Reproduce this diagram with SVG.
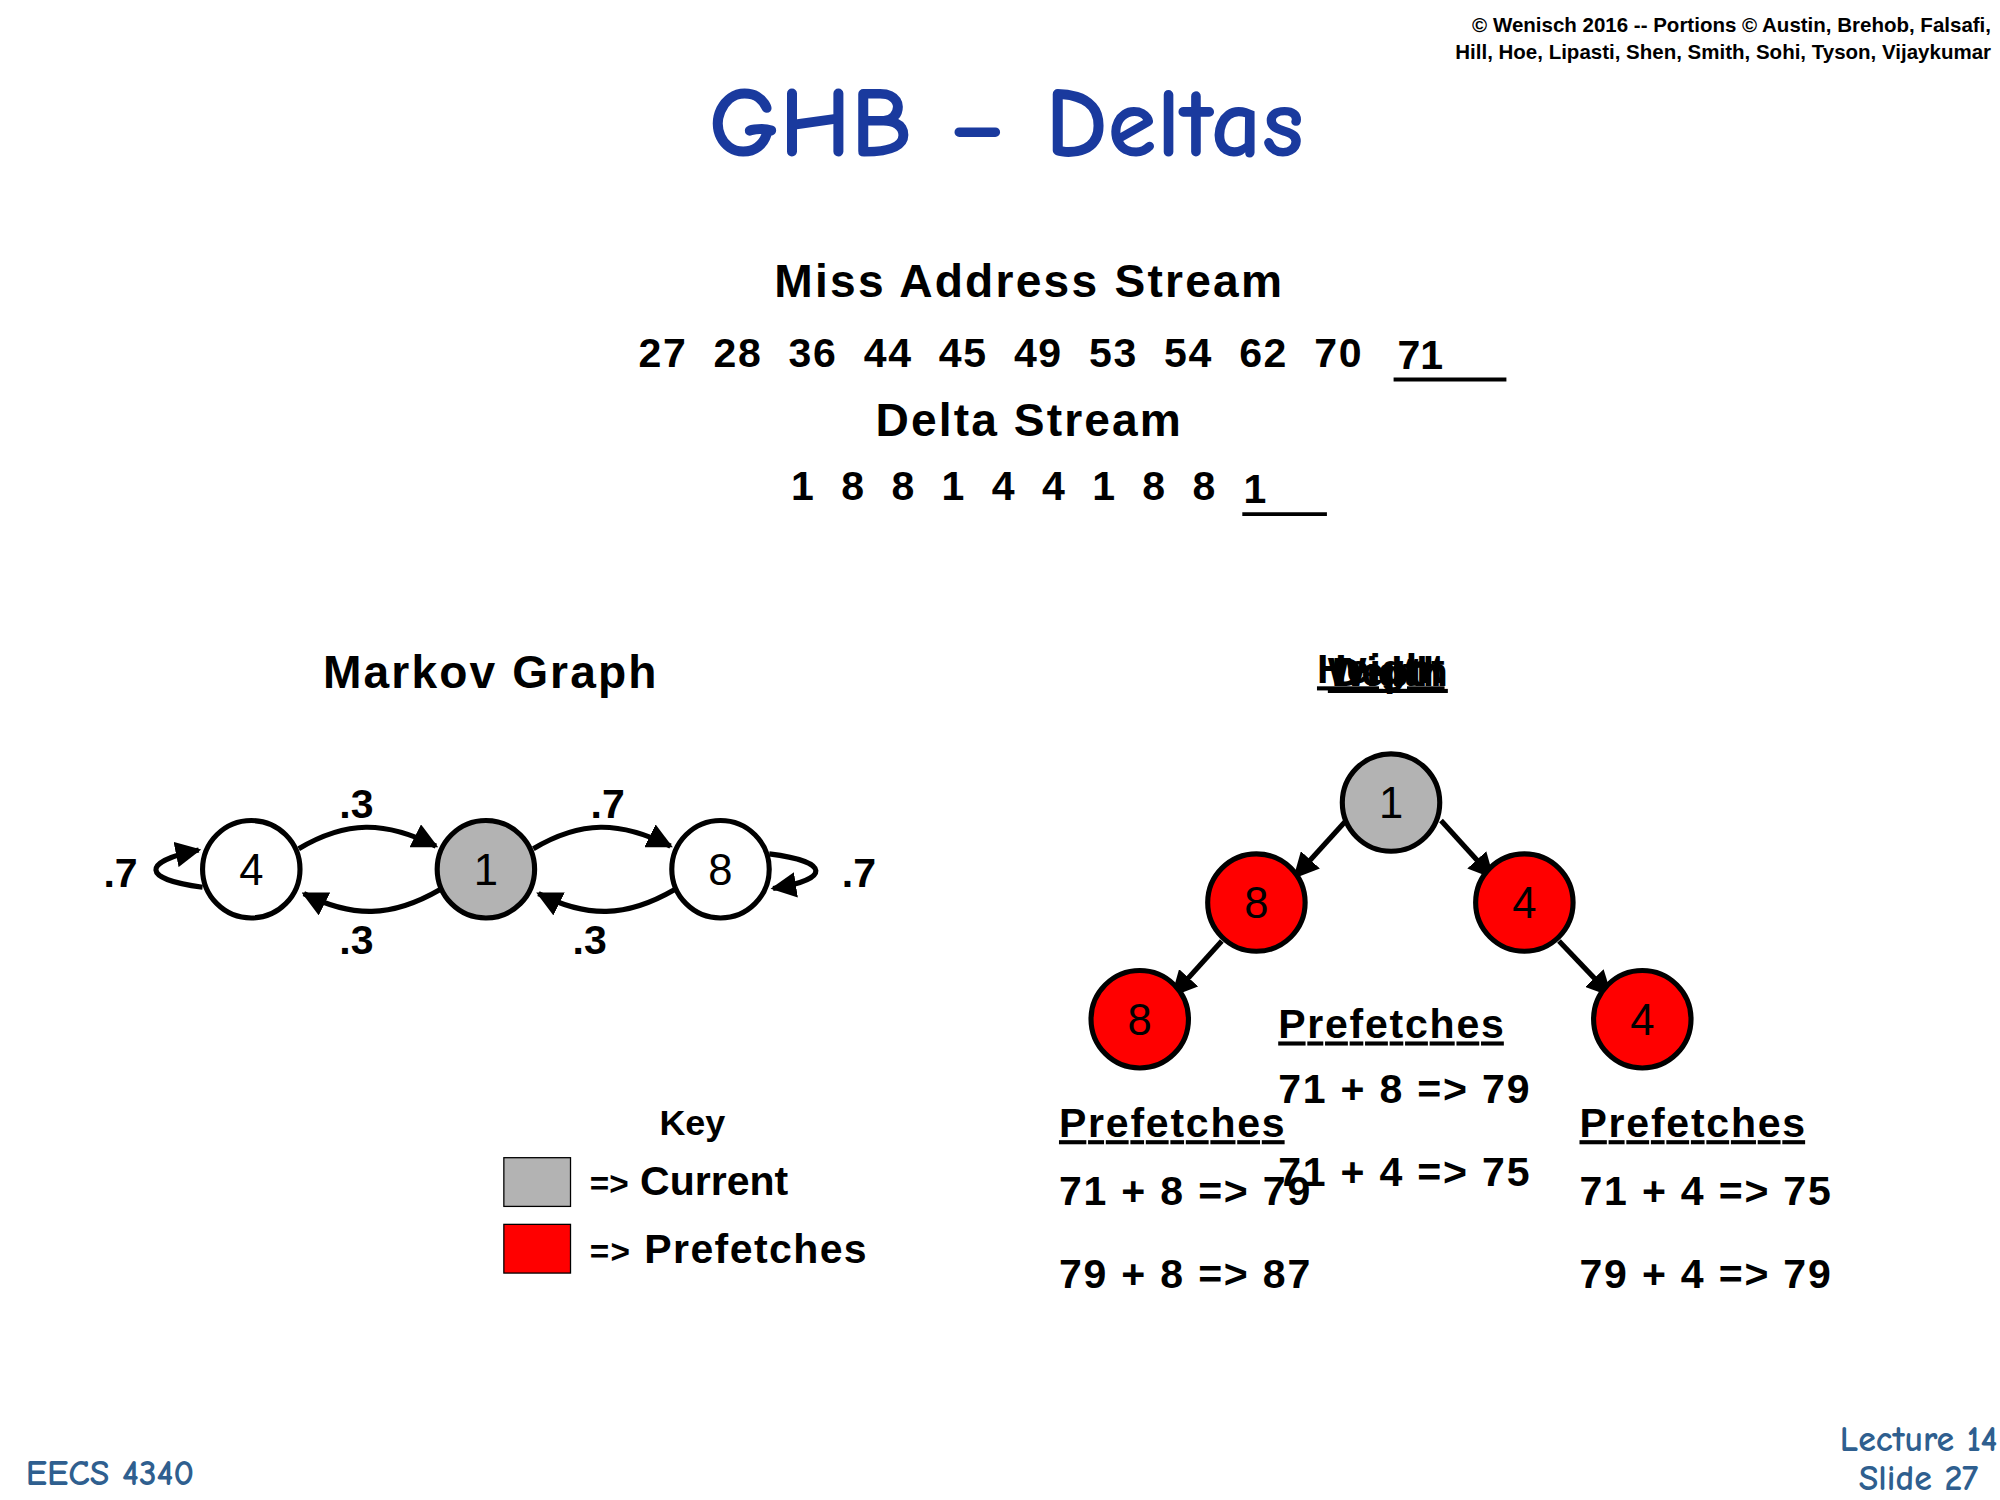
<svg xmlns="http://www.w3.org/2000/svg" width="2000" height="1500" viewBox="0 0 2000 1500">
<defs>
<style>
text{font-family:"Liberation Sans",Arial,sans-serif;fill:#000}
.b{font-weight:bold}
.h{font-size:36px;font-weight:bold}
.n{font-size:32px;font-weight:bold}
.lbl{font-size:34px;text-anchor:middle}
.c{font-family:"Comic Neue","DejaVu Sans",sans-serif;font-weight:bold}
.node{stroke:#000;stroke-width:4}
.e{fill:none;stroke:#000;stroke-width:4}
</style>
<marker id="ah" viewBox="0 0 10 10" refX="9" refY="5" markerWidth="5" markerHeight="5" orient="auto" markerUnits="strokeWidth"><path d="M0,0L10,5L0,10z" fill="#000"/></marker>
</defs>
<rect width="2000" height="1500" fill="#fff"/>
<g transform="scale(1.28205)">
<text x="1553" y="25" class="b" font-size="16" text-anchor="end">© Wenisch 2016 -- Portions © Austin, Brehob, Falsafi,</text>
<text x="1553" y="46" class="b" font-size="16" text-anchor="end">Hill, Hoe, Lipasti, Shen, Smith, Sohi, Tyson, Vijaykumar</text>
<text x="785" y="122" class="c" font-size="78" style="fill:#1a3a9e" text-anchor="middle">GHB – Deltas</text>

<text x="802" y="232" class="h" text-anchor="middle" textLength="396">Miss Address Stream</text>
<text x="498" y="286" class="n" xml:space="preserve" textLength="564">27  28  36  44  45  49  53  54  62  70</text>
<text x="1090" y="288" class="n">71</text>
<line x1="1087" y1="296" x2="1175" y2="296" stroke="#000" stroke-width="3"/>
<text x="802" y="340" class="h" text-anchor="middle" textLength="238">Delta Stream</text>
<text x="617" y="390" class="n" xml:space="preserve" textLength="331">1  8  8  1  4  4  1  8  8</text>
<text x="970" y="392" class="n">1</text>
<line x1="969" y1="401" x2="1035" y2="401" stroke="#000" stroke-width="3"/>

<text x="382" y="537" class="h" text-anchor="middle" textLength="260">Markov Graph</text>
<g id="connectors">
<path class="e" d="M233,662 C270,640 300,640 340,660" marker-end="url(#ah)"/>
<path class="e" d="M343,694 C305,716 275,716 237,697" marker-end="url(#ah)"/>
<path class="e" d="M416,662 C453,640 483,640 523,660" marker-end="url(#ah)"/>
<path class="e" d="M526,694 C488,716 458,716 420,697" marker-end="url(#ah)"/>
<path class="e" d="M158,692 C110,686 110,672 155,663" marker-end="url(#ah)"/>
<path class="e" d="M600,666 C648,672 648,686 603,693" marker-end="url(#ah)"/>
<line class="e" x1="1050" y1="640" x2="1010" y2="684" marker-end="url(#ah)"/>
<line class="e" x1="1124" y1="640" x2="1164" y2="684" marker-end="url(#ah)"/>
<line class="e" x1="953" y1="734" x2="915" y2="776" marker-end="url(#ah)"/>
<line class="e" x1="1216" y1="734" x2="1256" y2="776" marker-end="url(#ah)"/>
</g>
<text x="278" y="638" class="n" text-anchor="middle">.3</text>
<text x="278" y="744" class="n" text-anchor="middle">.3</text>
<text x="474" y="638" class="n" text-anchor="middle">.7</text>
<text x="460" y="744" class="n" text-anchor="middle">.3</text>
<text x="94" y="692" class="n" text-anchor="middle">.7</text>
<text x="670" y="692" class="n" text-anchor="middle">.7</text>
<g id="m4"><circle class="node" cx="196" cy="678" r="38" fill="#fff"/><text x="196" y="690" class="lbl">4</text></g>
<g id="m1"><circle class="node" cx="379" cy="678" r="38" fill="#b3b3b3"/><text x="379" y="690" class="lbl">1</text></g>
<g id="m8"><circle class="node" cx="562" cy="678" r="38" fill="#fff"/><text x="562" y="690" class="lbl">8</text></g>

<g id="heading">
<text x="1077" y="533" class="n" text-anchor="middle" text-decoration="underline">Height</text>
<text x="1080" y="535" class="n" text-anchor="middle" text-decoration="underline">Width</text>
<text x="1084" y="535" class="n" text-anchor="middle" text-decoration="underline">Depth</text>
</g>
<g id="t1"><circle class="node" cx="1085" cy="626" r="38" fill="#b3b3b3"/><text x="1085" y="638" class="lbl">1</text></g>
<g id="t8a"><circle class="node" cx="980" cy="704" r="38" fill="#f00"/><text x="980" y="716" class="lbl">8</text></g>
<g id="t4a"><circle class="node" cx="1189" cy="704" r="38" fill="#f00"/><text x="1189" y="716" class="lbl">4</text></g>
<g id="t8b"><circle class="node" cx="889" cy="795" r="38" fill="#f00"/><text x="889" y="807" class="lbl">8</text></g>
<g id="t4b"><circle class="node" cx="1281" cy="795" r="38" fill="#f00"/><text x="1281" y="807" class="lbl">4</text></g>

<text x="997" y="810" class="n" text-decoration="underline" textLength="176">Prefetches</text>
<text x="997" y="860" class="n" textLength="196">71 + 8 =&gt; 79</text>
<text x="997" y="925" class="n" textLength="196">71 + 4 =&gt; 75</text>
<text x="826" y="887" class="n" text-decoration="underline" textLength="176">Prefetches</text>
<text x="826" y="940" class="n" textLength="196">71 + 8 =&gt; 79</text>
<text x="826" y="1005" class="n" textLength="196">79 + 8 =&gt; 87</text>
<text x="1232" y="887" class="n" text-decoration="underline" textLength="176">Prefetches</text>
<text x="1232" y="940" class="n" textLength="196">71 + 4 =&gt; 75</text>
<text x="1232" y="1005" class="n" textLength="196">79 + 4 =&gt; 79</text>

<g id="key">
<text x="540" y="885" class="b" font-size="28" text-anchor="middle">Key</text>
<rect x="393" y="903" width="52" height="38" fill="#b3b3b3" stroke="#000" stroke-width="1"/>
<rect x="393" y="955" width="52" height="38" fill="#f00" stroke="#000" stroke-width="1"/>
<text x="460" y="932" class="n"><tspan font-size="26">=&gt;</tspan> Current</text>
<text x="460" y="985" class="n" textLength="216"><tspan font-size="26">=&gt;</tspan> Prefetches</text>
</g>

<text x="20" y="1158" class="c" font-size="28" style="fill:#2f5f8f">EECS 4340</text>
<text x="1558" y="1132" class="c" font-size="28" text-anchor="end" style="fill:#2f5f8f">Lecture 14</text>
<text x="1543" y="1162" class="c" font-size="28" text-anchor="end" style="fill:#2f5f8f">Slide 27</text>
</g>
</svg>
